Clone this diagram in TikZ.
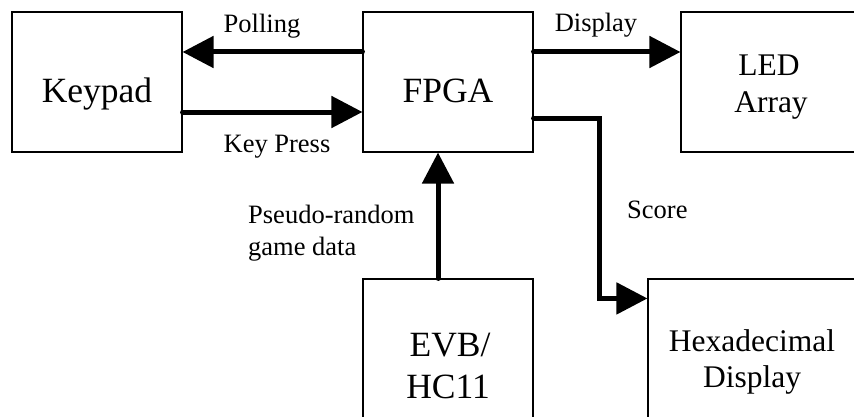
\documentclass[tikz,border=0pt]{standalone}
\usepackage{fontspec}
\setmainfont{Liberation Serif}
\usetikzlibrary{arrows.meta}
\begin{document}
\begin{tikzpicture}[x=1pt,y=1pt,
  box/.style={draw=black,line width=1.1pt,minimum height=140pt,inner sep=0pt},
  bigtext/.style={inner sep=0pt,anchor=base,font=\fontsize{35.5}{40}\selectfont},
  midtext/.style={inner sep=0pt,anchor=base,font=\fontsize{31.5}{36}\selectfont},
  lbl/.style={inner sep=0pt,anchor=base,font=\fontsize{26.5}{30}\selectfont},
  lbll/.style={inner sep=0pt,anchor=base west,font=\fontsize{26.5}{30}\selectfont},
  conn/.style={line width=5pt,line cap=round,line join=miter,
    -{Triangle[length=31pt,width=31pt]}}]
\useasboundingbox (0,0) rectangle (854,416);
\clip (0,0) rectangle (854,416);
% boxes
\node[box,minimum width=170pt] (keypad) at (97,334) {};
\node[box,minimum width=170pt] (fpga) at (448,334) {};
\node[box,minimum width=176pt] (led) at (769,334) {};
\node[box,minimum width=170pt] (evb) at (448,67) {};
\node[box,minimum width=210pt] (hex) at (753,67) {};
% box texts
\node[bigtext] (tkeypad) at (97,314) {Keypad};
\node[bigtext] (tfpga) at (448,314) {FPGA};
\node[midtext] (tled1) at (769,340) {LED};
\node[midtext] (tled2) at (771,304) {Array};
\node[bigtext] (tevb1) at (450,60) {EVB/};
\node[bigtext] (tevb2) at (448,18) {HC11};
\node[midtext] (thex1) at (752,65) {Hexadecimal};
\node[midtext] (thex2) at (752,29) {Display};
% labels
\node[lbl] (lpoll) at (262,383) {Polling};
\node[lbl] (lkey) at (277,264) {Key Press};
\node[lbl] (ldisp) at (596,384) {Display};
\node[lbll] (lpseudo1) at (248,193) {Pseudo-random};
\node[lbll] (lpseudo2) at (248,161) {game data};
\node[lbll] (lscore) at (627,198) {Score};
% connectors
\draw[conn] ([yshift=30pt]fpga.west) -- ([yshift=30pt]keypad.east);
\draw[conn] ([yshift=-30pt]keypad.east) -- ([yshift=-30pt]fpga.west);
\draw[conn] ([yshift=30pt]fpga.east) -- ([yshift=30pt]led.west);
\draw[conn] ([xshift=-10pt]evb.north) -- ([xshift=-10pt]fpga.south);
\draw[conn] ([yshift=-36pt]fpga.east) -| ([xshift=-48pt,yshift=-20pt]hex.north west) -- ([yshift=-20pt]hex.north west);
\end{tikzpicture}
\end{document}
